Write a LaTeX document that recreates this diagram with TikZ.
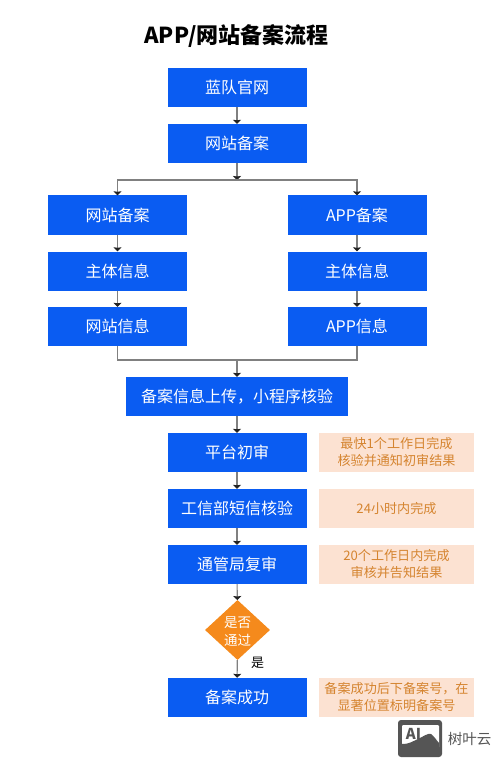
\documentclass[tikz,border=0pt]{standalone}
\usepackage{fontspec}
\setmainfont{Noto Sans CJK SC}
\usetikzlibrary{shapes.geometric,arrows.meta}
\definecolor{bluebox}{HTML}{0A5CF2}
\definecolor{notebg}{HTML}{FCE2D2}
\definecolor{notetx}{HTML}{D5842F}
\definecolor{orangeD}{HTML}{F58A1C}
\definecolor{linegray}{HTML}{808080}
\definecolor{arrowdk}{HTML}{222222}
\definecolor{wmark}{HTML}{555555}
\tikzset{
  x=1pt,y=-1pt,
  bluebox/.style={fill=bluebox,text=white,minimum width=#1,minimum height=39pt,inner sep=0pt,font=\fontsize{16}{19}\selectfont,anchor=center},
  bluebox/.default=139pt,
  notebox/.style={fill=notebg,text=notetx,minimum width=155pt,minimum height=39pt,inner sep=0pt,align=center,font=\fontsize{13.1}{17}\selectfont},
  conn/.style={draw=linegray,line width=1.1pt},
  arr/.style={conn,-{Stealth[length=4pt,width=8pt,inset=0.5pt,color=arrowdk]}},
}
\begin{document}
\begin{tikzpicture}
\useasboundingbox (0,0) rectangle (500,767);
\fill[white] (0,0) rectangle (500,767);
\node (title) at (236.5,36) {\fontsize{22}{26}\selectfont\bfseries APP/网站备案流程};
\node[bluebox] (a1) at (237,87.5) {蓝队官网};
\node[bluebox] (a2) at (237,143.5) {网站备案};
\node[bluebox] (l1) at (117.5,215) {网站备案};
\node[bluebox] (l2) at (117.5,271) {主体信息};
\node[bluebox] (l3) at (117.5,326.5) {网站信息};
\node[bluebox] (r1) at (357,215) {APP备案};
\node[bluebox] (r2) at (357,271) {主体信息};
\node[bluebox] (r3) at (357,326.5) {APP信息};
\node[bluebox=222pt] (up) at (237,396.5) {备案信息上传，小程序核验};
\node[bluebox] (s1) at (237,452.5) {平台初审};
\node[bluebox] (s2) at (237,508.5) {工信部短信核验};
\node[bluebox] (s3) at (237,564.5) {通管局复审};
\node[diamond,aspect=1.08,fill=orangeD,text=white,inner sep=0pt,minimum width=65pt,minimum height=60pt] (d) at (237.5,630) {};
\node[text=white,align=center,inner sep=0pt,font=\fontsize{13.5}{18}\selectfont] (dt) at (237.5,632) {是否\\通过};
\node[bluebox] (s4) at (237,697.5) {备案成功};
\node[notebox] (n1) at (396.5,452.5) {最快1个工作日完成\\核验并通知初审结果};
\node[notebox] (n2) at (396.5,508.5) {24小时内完成};
\node[notebox] (n3) at (396.5,564.5) {20个工作日内完成\\审核并告知结果};
\node[notebox] (n4) at (396.5,697.5) {备案成功后下备案号，在\\显著位置标明备案号};
\node[font=\fontsize{13}{15}\selectfont,text=black] (yes) at (257.5,663) {是};
\coordinate (split) at (237,180);
\coordinate (merge) at (237,360);
\draw[arr] (a1) -- (a2);
\draw[arr] (a2) -- (split);
\draw[arr] (split) -| (l1);
\draw[arr] (split) -| (r1);
\draw[arr] (l1) -- (l2);
\draw[arr] (l2) -- (l3);
\draw[arr] (r1) -- (r2);
\draw[arr] (r2) -- (r3);
\draw[conn] (l3) |- (merge);
\draw[conn] (r3) |- (merge);
\draw[arr] (merge) -- (up);
\draw[arr] (up) -- (s1);
\draw[arr] (s1) -- (s2);
\draw[arr] (s2) -- (s3);
\draw[arr] (s3) -- (d);
\draw[arr] (d) -- (s4);
% watermark
\fill[wmark,rounded corners=3pt] (398,720) rectangle (442,757);
\fill[white,rounded corners=1pt] (402,725) rectangle (439,748);
\fill[wmark] (402,749) -- (402,744) .. controls (410,744) and (413,741) .. (418,739) .. controls (424,736) and (428,733) .. (431,734) .. controls (434,736) and (437,741) .. (439,743) -- (439,749) -- cycle;
\node[text=wmark,inner sep=0pt,font=\fontsize{15}{15}\selectfont\bfseries] (ai) at (413.5,733.5) {AI};
\node[text=wmark,inner sep=0pt,font=\fontsize{14.5}{17}\selectfont] (wm) at (469.5,739) {树叶云};
\end{tikzpicture}
\end{document}
